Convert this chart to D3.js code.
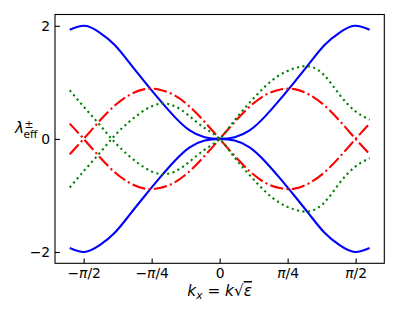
<!DOCTYPE html>
<html>
<head>
<meta charset="utf-8">
<script src="https://cdn.jsdelivr.net/npm/d3@7"></script>
<style>
  body { margin: 0; background: #fff; }
  text { font-family: "DejaVu Sans", sans-serif; }
</style>
</head>
<body>
<div id="chart"></div>
<script>
// sample points along k_x (rad)
const kx = [-1.732, -1.559, -1.386, -1.212, -1.039, -0.866, -0.693, -0.520, -0.346, -0.173, 0,
             0.173, 0.346, 0.520, 0.693, 0.866, 1.039, 1.212, 1.386, 1.559, 1.732];

// blue solid pair
const blueUpper = [1.93, 2.00, 1.88, 1.66, 1.34, 1.01, 0.69, 0.39, 0.15, 0.03, 0,
                   0.03, 0.15, 0.39, 0.69, 1.01, 1.34, 1.66, 1.88, 2.00, 1.93];
const blueLower = [-1.93, -2.00, -1.88, -1.66, -1.34, -1.01, -0.69, -0.39, -0.15, -0.03, 0,
                   -0.03, -0.15, -0.39, -0.69, -1.01, -1.34, -1.66, -1.88, -2.00, -1.93];

// red dash-dot pair
const redA = [-0.27, 0.02, 0.32, 0.59, 0.78, 0.88, 0.87, 0.77, 0.57, 0.30, 0,
              -0.30, -0.57, -0.77, -0.87, -0.88, -0.78, -0.59, -0.32, -0.02, 0.27];
const redB = [0.27, -0.02, -0.32, -0.59, -0.78, -0.88, -0.87, -0.77, -0.57, -0.30, 0,
              0.30, 0.57, 0.77, 0.87, 0.88, 0.78, 0.59, 0.32, 0.02, -0.27];

// green dotted pair
const greenA = [0.86, 0.55, 0.25, -0.06, -0.31, -0.51, -0.62, -0.58, -0.40, -0.19, 0,
                0.33, 0.64, 0.92, 1.13, 1.25, 1.28, 1.12, 0.78, 0.50, 0.34];
const greenB = [-0.86, -0.55, -0.25, 0.06, 0.31, 0.51, 0.62, 0.58, 0.40, 0.19, 0,
                -0.33, -0.64, -0.92, -1.13, -1.25, -1.28, -1.12, -0.78, -0.50, -0.34];

const xTickValues = [-Math.PI / 2, -Math.PI / 4, 0, Math.PI / 4, Math.PI / 2];
const xTickLabels = ["\u2212\u03c0/2", "\u2212\u03c0/4", "0", "\u03c0/4", "\u03c0/2"];
const yTickValues = [-2, 0, 2];
const yTickLabels = ["\u22122", "0", "2"];

const series = [
    {values: blueUpper, color: "#0000ff", dash: null},
    {values: blueLower, color: "#0000ff", dash: null},
    {values: redA, color: "#ff0000", dash: "13.3,3.3,2.1,3.3"},
    {values: redB, color: "#ff0000", dash: "13.3,3.3,2.1,3.3"},
    {values: greenA, color: "#008000", dash: "2.1,3.4"},
    {values: greenB, color: "#008000", dash: "2.1,3.4"}
];

const margin = {top: 14.5, right: 14.7, bottom: 55.7, left: 55};
const width = 399;
const height = 319;
const innerWidth = width - margin.left - margin.right;
const innerHeight = height - margin.top - margin.bottom;

const svg = d3.select("#chart")
    .append("svg")
    .attr("width", width)
    .attr("height", height);

const innerChart = svg.append("g")
    .attr("transform", `translate(${margin.left}, ${margin.top})`);

const xScale = d3.scaleLinear()
    .domain([-1.902, 1.902])
    .range([0, innerWidth]);

const yScale = d3.scaleLinear()
    .domain([-2.2, 2.2])
    .range([innerHeight, 0]);

const line = d3.line()
    .x((d, i) => xScale(kx[i]))
    .y(d => yScale(d))
    .curve(d3.curveNatural);

innerChart.selectAll("path.curve")
    .data(series)
    .join("path")
    .attr("class", "curve")
    .attr("d", d => line(d.values))
    .attr("fill", "none")
    .attr("stroke", d => d.color)
    .attr("stroke-width", 2.1)
    .attr("stroke-dasharray", d => d.dash)
    .attr("stroke-linecap", "butt");

// put pi in italic like mathtext
const mathLabel = (sel, labels) => {
    sel.each(function(d, i) {
        const t = d3.select(this).text("");
        labels[i].split(/(\u03c0)/).filter(s => s.length).forEach(part => {
            t.append("tspan")
                .attr("font-style", part === "\u03c0" ? "italic" : null)
                .text(part);
        });
    });
};

const xAxis = innerChart.append("g")
    .attr("transform", `translate(0, ${innerHeight})`)
    .call(d3.axisBottom(xScale)
        .tickValues(xTickValues)
        .tickSizeInner(-4.9)
        .tickSizeOuter(0)
        .tickPadding(4.9));

const yAxis = innerChart.append("g")
    .call(d3.axisLeft(yScale)
        .tickValues(yTickValues)
        .tickSizeInner(-4.9)
        .tickSizeOuter(0)
        .tickPadding(4.9));

[xAxis, yAxis].forEach(ax => {
    ax.select(".domain").remove();
    ax.selectAll(".tick line").attr("stroke", "#000").attr("stroke-width", 1.1);
    ax.selectAll("text")
        .attr("fill", "#000")
        .attr("font-size", 13.9)
        .attr("font-family", "DejaVu Sans");
});
mathLabel(xAxis.selectAll(".tick text"), xTickLabels);
mathLabel(yAxis.selectAll(".tick text"), yTickLabels);

innerChart.append("rect")
    .attr("width", innerWidth)
    .attr("height", innerHeight)
    .attr("fill", "none")
    .attr("stroke", "#000")
    .attr("stroke-width", 1.1);

// x label: k_x = k sqrt(eps)
const xLabel = svg.append("text")
    .attr("x", margin.left + innerWidth / 2)
    .attr("y", 296)
    .attr("text-anchor", "middle")
    .attr("font-size", 15.3)
    .attr("fill", "#000");
xLabel.append("tspan").attr("font-style", "italic").text("k");
xLabel.append("tspan").attr("font-style", "italic").attr("font-size", 10.7).attr("dy", 3).text("x");
xLabel.append("tspan").attr("dy", -3).text(" = ");
xLabel.append("tspan").attr("font-style", "italic").text("k");
xLabel.append("tspan").text("\u221a");
xLabel.append("tspan").attr("font-style", "italic")
    .style("text-decoration", "overline").text("\u03b5");

// y label: lambda_eff^pm
svg.append("text")
    .attr("x", 15).attr("y", 133)
    .attr("font-size", 15.3).attr("font-style", "italic").attr("fill", "#000")
    .text("\u03bb");
svg.append("text")
    .attr("x", 24.5).attr("y", 128)
    .attr("font-size", 10.7).attr("fill", "#000")
    .text("\u00b1");
svg.append("text")
    .attr("x", 23.5).attr("y", 138)
    .attr("font-size", 10.7).attr("fill", "#000")
    .text("eff");
</script>
</body>
</html>
